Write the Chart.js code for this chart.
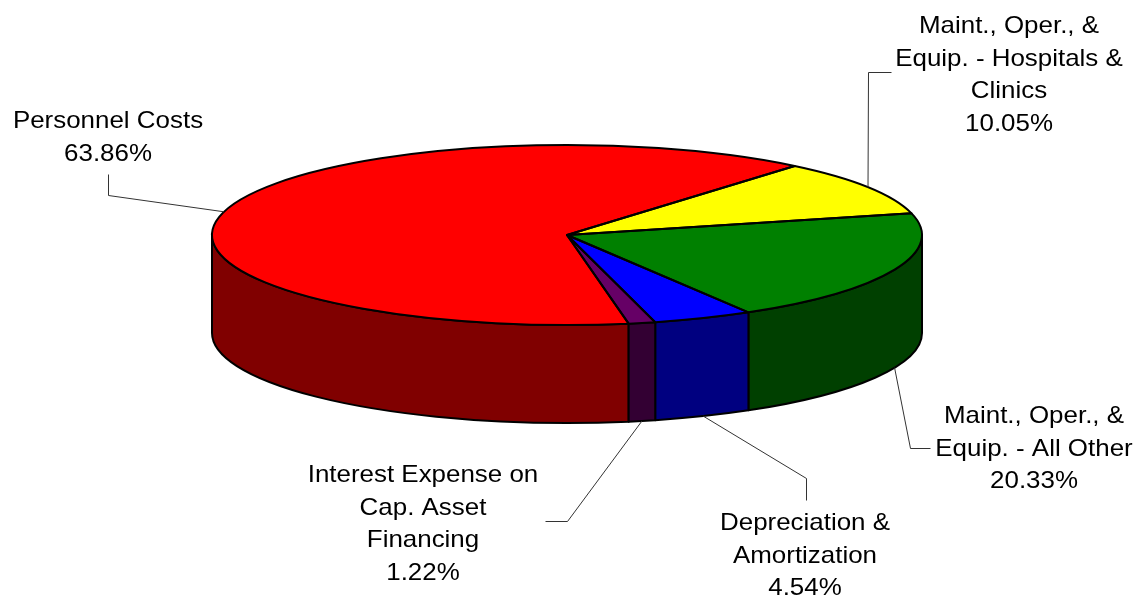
<!DOCTYPE html>
<html>
<head>
<meta charset="utf-8">
<script src="https://cdn.jsdelivr.net/npm/chart.js@4/dist/chart.umd.min.js"></script>
<style>
  html, body { margin: 0; padding: 0; background: #ffffff; }
  #wrap { width: 1141px; height: 598px; position: relative; }
</style>
</head>
<body>
<div id="wrap"><canvas id="c" width="1141" height="598"></canvas></div>
<script>
// ---- data ----
const categories = [
  'Personnel Costs',
  'Maint., Oper., & Equip. - Hospitals & Clinics',
  'Maint., Oper., & Equip. - All Other',
  'Depreciation & Amortization',
  'Interest Expense on Cap. Asset Financing'
];
const categoryLines = [
  ['Personnel Costs'],
  ['Maint., Oper., &', 'Equip. - Hospitals &', 'Clinics'],
  ['Maint., Oper., &', 'Equip. - All Other'],
  ['Depreciation &', 'Amortization'],
  ['Interest Expense on', 'Cap. Asset', 'Financing']
];
const values = [63.86, 10.05, 20.33, 4.54, 1.22];

// ---- styling / layout ----
const topColors  = ['#ff0000', '#ffff00', '#008000', '#0000ff', '#660066'];
const sideColors = ['#800000', '#808000', '#004000', '#000080', '#330033'];
const ELL = { cx: 567, cy: 235, rx: 355, ry: 90, depth: 98 };
const labelLayout = [
  { x: 108,  y: 128, elbow: [[108,195],[108,174]] },
  { x: 1009, y: 33,  elbow: [[868,72],[891,72]] },
  { x: 1034, y: 423, elbow: [[910,448],[930,448]] },
  { x: 805,  y: 530, elbow: [[806,478],[806,500]] },
  { x: 423,  y: 482, elbow: [[567,521],[545,521]] }
];
const LINE_H = 32.5;
const FONT = '24px "Liberation Sans", Arial, sans-serif';
const XSTRETCH = 1.08;

function visibleRanges(s, e) {
  const out = [];
  for (let k = -2; k <= 2; k++) {
    const lo = k * 2 * Math.PI, hi = lo + Math.PI;
    const a = Math.max(s, lo), b = Math.min(e, hi);
    if (b > a) out.push([a, b]);
  }
  return out;
}
function norm(a) { const t = 2*Math.PI; return ((a % t) + t) % t; }

const pie3d = {
  id: 'pie3d',
  beforeDatasetsDraw(chart) {
    const ctx = chart.ctx;
    const meta = chart.getDatasetMeta(0);
    const arcs = meta.data;
    const { cx, cy, rx, ry, depth } = ELL;
    // side walls
    arcs.forEach((arc, i) => {
      visibleRanges(arc.startAngle, arc.endAngle).forEach(([s, e]) => {
        ctx.save();
        ctx.beginPath();
        ctx.ellipse(cx, cy, rx, ry, 0, s, e, false);
        ctx.lineTo(cx + rx * Math.cos(e), cy + depth + ry * Math.sin(e));
        ctx.ellipse(cx, cy + depth, rx, ry, 0, e, s, true);
        ctx.closePath();
        ctx.fillStyle = sideColors[i];
        ctx.fill();
        ctx.lineWidth = 2;
        ctx.lineJoin = 'round';
        ctx.strokeStyle = '#000';
        ctx.stroke();
        ctx.restore();
      });
    });
    // transform so the library's circle becomes the top ellipse
    const a0 = arcs[0];
    const R = a0.outerRadius;
    ctx.save();
    ctx.translate(cx, cy);
    ctx.scale(rx / R, ry / R);
    ctx.translate(-a0.x, -a0.y);
  },
  afterDatasetsDraw(chart) {
    const ctx = chart.ctx;
    ctx.restore();
    const arcs = chart.getDatasetMeta(0).data;
    const { cx, cy, rx, ry, depth } = ELL;
    // top outlines
    arcs.forEach((arc) => {
      ctx.save();
      ctx.beginPath();
      ctx.moveTo(cx, cy);
      ctx.lineTo(cx + rx * Math.cos(arc.startAngle), cy + ry * Math.sin(arc.startAngle));
      ctx.ellipse(cx, cy, rx, ry, 0, arc.startAngle, arc.endAngle, false);
      ctx.closePath();
      ctx.lineWidth = 2;
      ctx.lineJoin = 'round';
      ctx.strokeStyle = '#000';
      ctx.stroke();
      ctx.restore();
    });
    // leader lines and labels
    arcs.forEach((arc, i) => {
      const mid = (arc.startAngle + arc.endAngle) / 2;
      const m = norm(mid);
      let ax = cx + rx * Math.cos(mid);
      let ay = cy + ry * Math.sin(mid);
      if (m > 0 && m < Math.PI) ay += depth;
      const L = labelLayout[i];
      ctx.save();
      ctx.beginPath();
      ctx.moveTo(ax, ay);
      L.elbow.forEach(([x, y]) => ctx.lineTo(x + 0.5, y + 0.5));
      ctx.lineWidth = 1;
      ctx.strokeStyle = '#333';
      ctx.stroke();
      ctx.restore();

      const lines = categoryLines[i].concat([values[i].toFixed(2) + '%']);
      ctx.save();
      ctx.font = FONT;
      ctx.fillStyle = '#000';
      ctx.textAlign = 'center';
      ctx.textBaseline = 'alphabetic';
      lines.forEach((t, j) => {
        ctx.save();
        ctx.translate(L.x, Math.round(L.y + j * LINE_H));
        ctx.scale(XSTRETCH, 1);
        ctx.fillText(t, 0, 0);
        ctx.restore();
      });
      ctx.restore();
    });
  }
};

new Chart(document.getElementById('c'), {
  type: 'pie',
  data: {
    labels: categories,
    datasets: [{
      data: values,
      backgroundColor: topColors,
      borderWidth: 0,
      clip: false
    }]
  },
  options: {
    responsive: false,
    animation: false,
    rotation: 170,
    layout: { padding: 0 },
    plugins: { legend: { display: false }, tooltip: { enabled: false } },
    events: []
  },
  plugins: [pie3d]
});
</script>
</body>
</html>
